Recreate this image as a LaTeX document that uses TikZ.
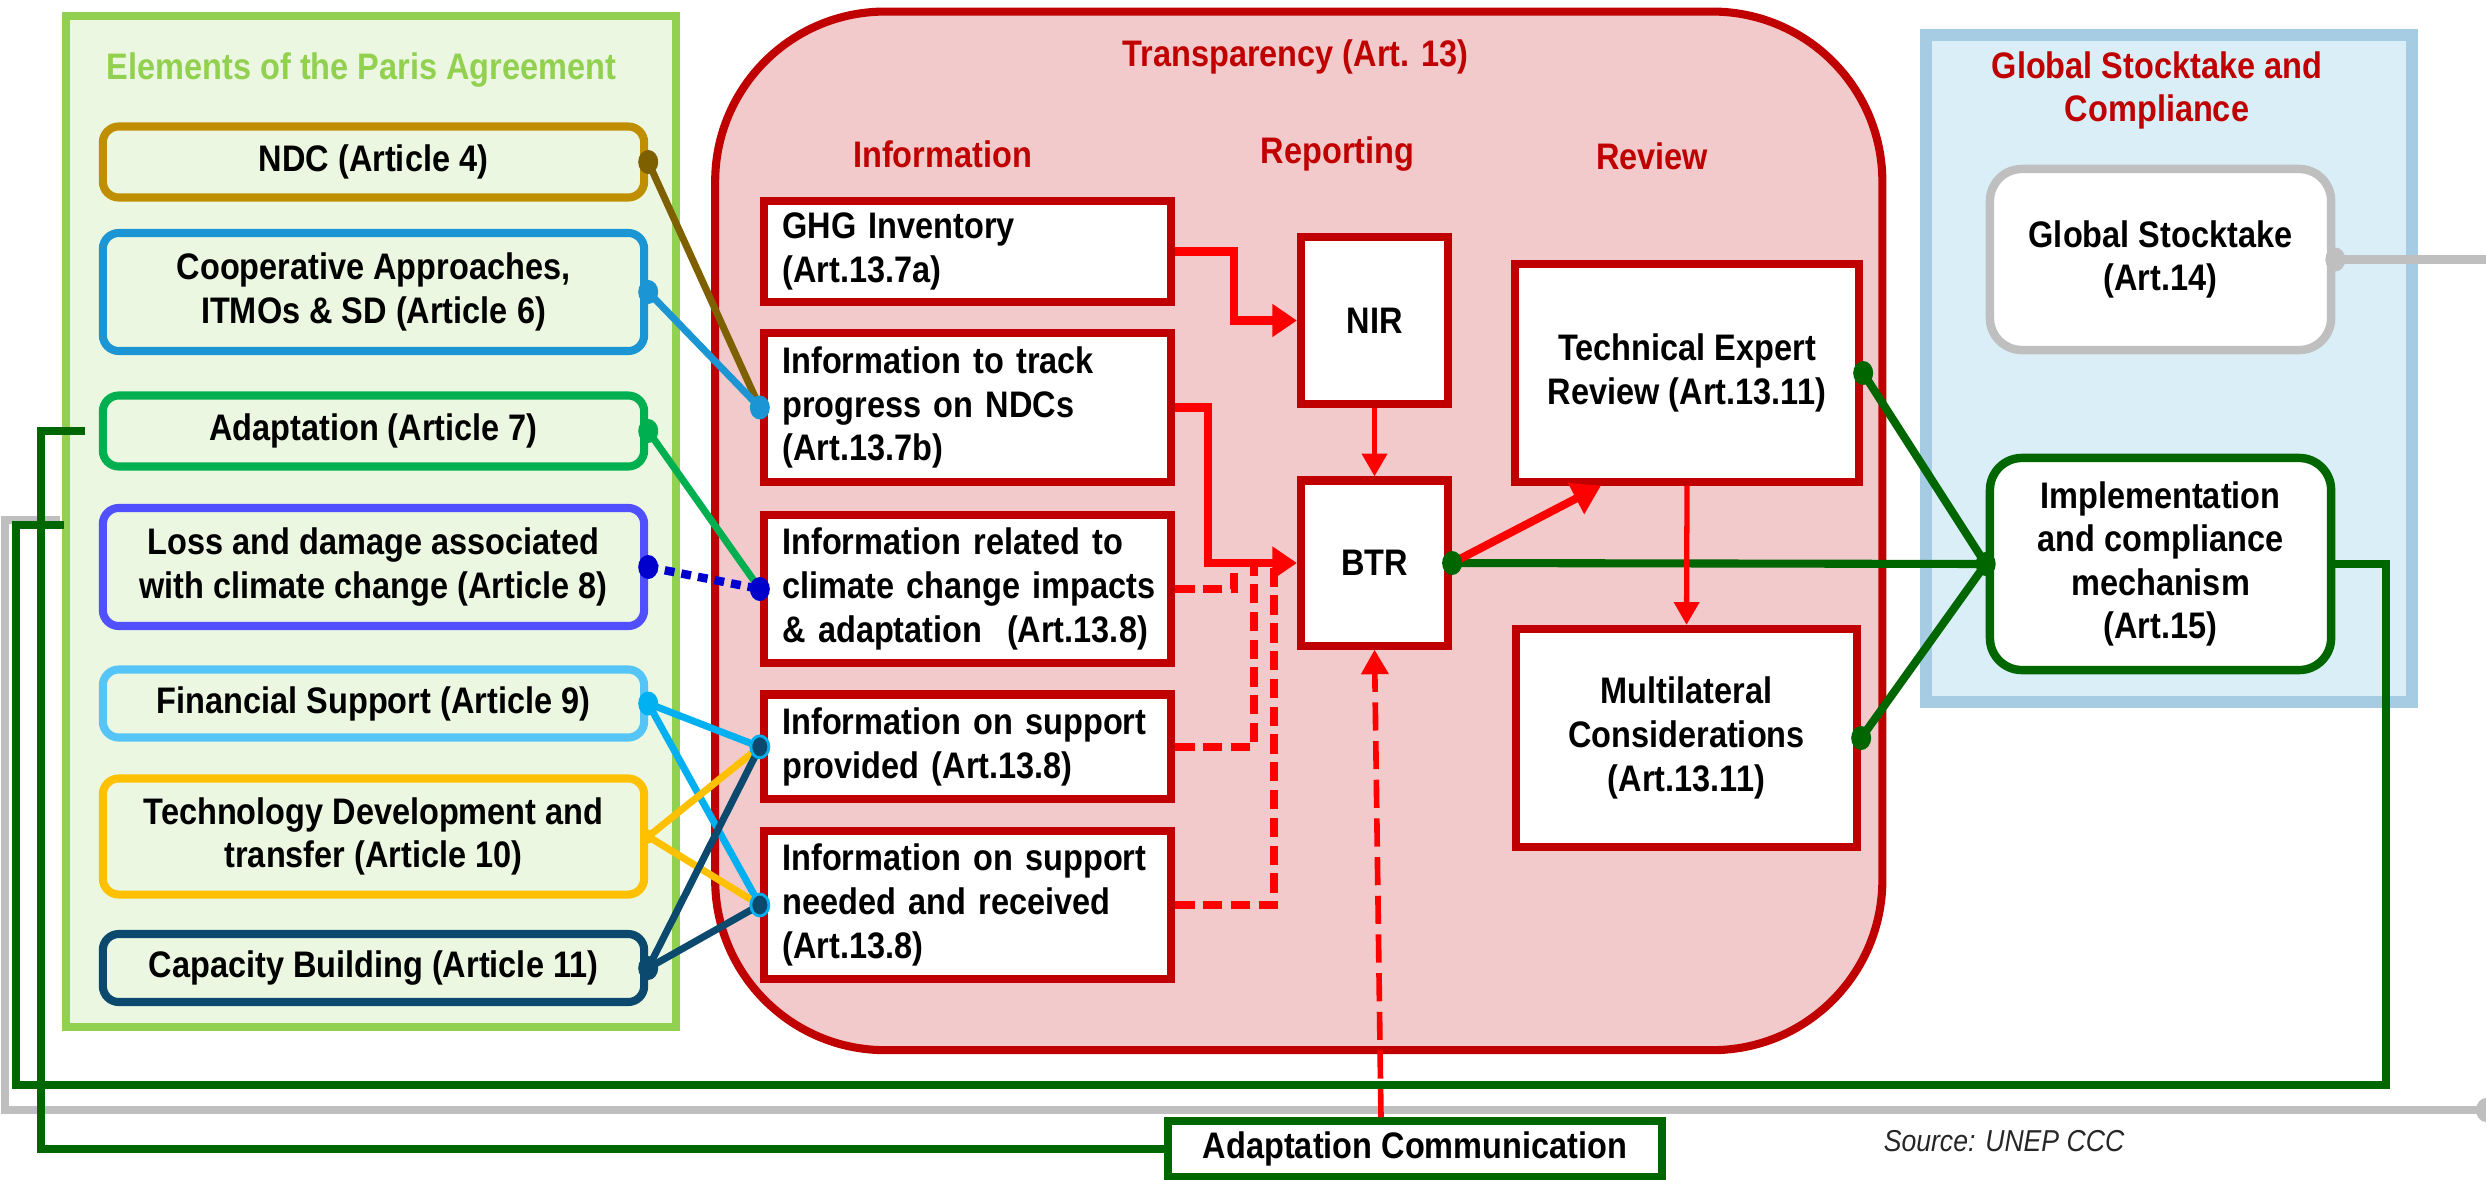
\documentclass[tikz,border=0pt]{standalone}
\usepackage{fontspec}
\setmainfont{Liberation Sans}[FakeStretch=0.88]
\usetikzlibrary{arrows.meta}
\definecolor{tred}{HTML}{C00000}
\definecolor{ared}{HTML}{FF0000}
\definecolor{pagreen}{HTML}{92D050}
\definecolor{pafill}{HTML}{EBF7E1}
\definecolor{trfill}{HTML}{F2CACB}
\definecolor{bluefill}{HTML}{DAEEF8}
\definecolor{blueline}{HTML}{A5CCE3}
\definecolor{dkgreen}{HTML}{006600}
\definecolor{gline}{HTML}{BFBFBF}
\definecolor{cndc}{HTML}{BF8F00}
\definecolor{cndcdot}{HTML}{7F6000}
\definecolor{ccoop}{HTML}{1B95D3}
\definecolor{cadapt}{HTML}{00B050}
\definecolor{closs}{HTML}{5050FF}
\definecolor{clossdot}{HTML}{0000CC}
\definecolor{cfin}{HTML}{55C5F8}
\definecolor{cfindot}{HTML}{00B0F0}
\definecolor{ctech}{HTML}{FFC000}
\definecolor{ccap}{HTML}{0B4A6E}
\newcommand\oneln[1]{\mbox{#1}}
\begin{document}
\begin{tikzpicture}[x=0.01cm, y=-0.01cm,
  txt/.style={font=\fontsize{10.5}{12.4}\selectfont\bfseries},
  lbox/.style={txt, draw=#1, line width=2.3pt, rounded corners=0.16cm, minimum width=5.41cm, align=center, inner sep=0pt},
  ibox/.style={txt, draw=tred, fill=white, line width=2.3pt, minimum width=4.07cm, text width=3.7cm, inner xsep=0.185cm, inner ysep=0pt, align=left},
  rbox/.style={txt, draw=tred, fill=white, line width=2.3pt, align=center, inner sep=0pt},
  gbox/.style={txt, draw=#1, fill=white, line width=2.4pt, rounded corners=0.32cm, minimum width=3.41cm, align=center, inner sep=0pt},
  head/.style={txt, text=tred, align=center},
  rarrow/.style={draw=ared, line width=2.3pt, -{Triangle[length=7pt, width=9pt]}},
  rarrowthin/.style={draw=ared, line width=1.5pt, -{Triangle[length=6.5pt, width=7pt]}},
  rdash/.style={draw=ared, line width=2.4pt, dash pattern=on 5.5pt off 2.4pt},
  adash/.style={draw=ared, line width=1.6pt, dash pattern=on 8pt off 3pt, -{Triangle[length=7pt, width=7.5pt]}},
  dkg/.style={draw=dkgreen, line width=2.3pt},
  gryl/.style={draw=gline, line width=2.5pt},
  cl/.style={draw=#1, line width=2pt},
  dotpat/.style={dash pattern=on 2.8pt off 2pt}
]
\useasboundingbox (0,0) rectangle (2486,1179);

% containers
\node[draw=pagreen, fill=pafill, line width=2.3pt, minimum width=6.1cm, minimum height=10.11cm, inner sep=0pt] (pa) at (371,521.5) {};
\node[draw=tred, fill=trfill, line width=2.3pt, rounded corners=1.7cm, minimum width=11.665cm, minimum height=10.38cm, inner sep=0pt] (tr) at (1298.75,530.85) {};
\node[draw=blueline, fill=bluefill, line width=3.4pt, minimum width=4.86cm, minimum height=6.664cm, inner sep=0pt] (bl) at (2169,368.8) {};

% headings
\node[txt, text=pagreen] (patitle) at (361.5,70) {Elements of the Paris Agreement};
\node[head] (trtitle) at (1295.5,57) {Transparency (Art. 13)};
\node[head] (hinfo) at (942.5,154) {Information};
\node[head] (hrep) at (1337.5,154) {Reporting};
\node[head] (hrev) at (1652,156) {Review};
\node[head] (bltitle) at (2157,90.5) {Global Stocktake and\\Compliance};

% left boxes
\node[lbox=cndc, minimum height=0.71cm] (ndc) at (373.5,162) {NDC (Article 4)};
\node[lbox=ccoop, minimum height=1.18cm] (coop) at (373.5,292) {Cooperative Approaches,\\ITMOs \& SD (Article 6)};
\node[lbox=cadapt, minimum height=0.71cm] (adapt) at (373.5,431) {Adaptation (Article 7)};
\node[lbox=closs, minimum height=1.18cm] (loss) at (373.5,567) {Loss and damage associated\\with climate change (Article 8)};
\node[lbox=cfin, minimum height=0.68cm] (fin) at (373.5,703.5) {Financial Support (Article 9)};
\node[lbox=ctech, minimum height=1.16cm] (tech) at (373.5,836.5) {Technology Development and\\transfer (Article 10)};
\node[lbox=ccap, minimum height=0.68cm] (cap) at (373.5,968) {Capacity Building (Article 11)};

% information boxes
\node[ibox, minimum height=1.01cm] (ghg) at (967.5,251.5) {\oneln{GHG Inventory}\\\oneln{(Art.13.7a)}};
\node[ibox, minimum height=1.49cm] (track) at (967.5,407.5) {\oneln{Information to track}\\\oneln{progress on NDCs}\\\oneln{(Art.13.7b)}};
\node[ibox, minimum height=1.48cm] (related) at (967.5,589) {\oneln{Information related to}\\\oneln{climate change impacts}\\\oneln{\& adaptation\ \ (Art.13.8)}};
\node[ibox, minimum height=1.045cm] (prov) at (967.5,746.8) {\oneln{Information on support}\\\oneln{provided (Art.13.8)}};
\node[ibox, minimum height=1.48cm] (need) at (967.5,905) {\oneln{Information on support}\\\oneln{needed and received}\\\oneln{(Art.13.8)}};

% reporting / review
\node[rbox, minimum width=1.47cm, minimum height=1.66cm] (nir) at (1374.5,320.5) {NIR};
\node[rbox, minimum width=1.47cm, minimum height=1.65cm] (btr) at (1374.5,563) {BTR};
\node[rbox, minimum width=3.44cm, minimum height=2.17cm] (ter) at (1687,373) {Technical Expert\\Review (Art.13.11)};
\node[rbox, minimum width=3.41cm, minimum height=2.18cm] (multi) at (1686.5,738) {Multilateral\\Considerations\\(Art.13.11)};

% global stocktake
\node[gbox=gline, minimum height=1.81cm] (gst) at (2160.5,259.5) {Global Stocktake\\(Art.14)};
\node[gbox=dkgreen, minimum height=2.12cm] (ic) at (2160.5,564) {Implementation\\and compliance\\mechanism\\(Art.15)};

% free ends
\coordinate (gsr) at (2500,259.5);
\coordinate (gbr) at (2486,1110);
\coordinate (gtl) at (60,520);
\coordinate (lstub) at (64,525);
\coordinate (astub) at (85,431);

% gray loop
\draw[gryl] (gst.east) -- (gsr);
\draw[gryl] (gbr) -| (5,520) -- (gtl);

% dark green loops
\draw[dkg] (ic.east) -| (2386,1085) -| (16,525) -- (lstub);
\draw[dkg] (astub) -- (41,431) |- (1166,1149);

% adaptation communication
\node[txt, draw=dkgreen, fill=white, line width=2.1pt, minimum width=4.94cm, minimum height=0.56cm, inner sep=0pt] (adcomm) at (1415,1149) {Adaptation Communication};

% source
\node[font=\fontsize{8.6}{10}\selectfont\itshape, text=black!85] (src) at (2004,1141) {Source: UNEP CCC};

% dark green connectors
\draw[dkg] (btr.east) -- (ic.west);
\draw[dkg] (ter.east) -- (ic.west);
\draw[dkg] (multi.east) -- (ic.west);

% red connectors
\draw[rarrow] (ghg.east) -- ++(59,0) |- (nir.west);
\draw[rarrow] (track.east) -- ++(33,0) |- (btr.west);
\draw[rdash] (related.east) -| ([xshift=-0.63cm]btr.west);
\draw[rdash] (prov.east) -| ([xshift=-0.43cm]btr.west);
\draw[rdash] (need.east) -| ([xshift=-0.23cm]btr.west);
\draw[rarrowthin] (nir.south) -- (btr.north);
\draw[rarrow, -{Triangle[length=8pt, width=9.5pt]}] (btr.east) -- ([xshift=-0.86cm]ter.south);
\draw[rarrowthin] (ter.south) -- (multi.north);
\draw[adash] ([xshift=-0.34cm]adcomm.north) -- (btr.south);

% left connectors
\draw[cl=cndcdot] (ndc.east) -- (track.west);
\draw[cl=ccoop] (coop.east) -- (track.west);
\draw[cl=cadapt] (adapt.east) -- (related.west);
\draw[cl=clossdot, line width=2.4pt, dotpat] (loss.east) -- (related.west);
\draw[cl=cfindot] (fin.east) -- (prov.west);
\draw[cl=cfindot] (fin.east) -- (need.west);
\draw[cl=ctech] (tech.east) -- (prov.west);
\draw[cl=ctech] (tech.east) -- (need.west);
\draw[cl=ccap] (cap.east) -- (prov.west);
\draw[cl=ccap] (cap.east) -- (need.west);

% dots
\fill[cndcdot] (ndc.east) ellipse [x radius=0.1cm, y radius=0.12cm];
\fill[ccoop] (coop.east) ellipse [x radius=0.1cm, y radius=0.12cm];
\fill[cadapt] (adapt.east) ellipse [x radius=0.1cm, y radius=0.12cm];
\fill[clossdot] (loss.east) ellipse [x radius=0.1cm, y radius=0.12cm];
\fill[cfindot] (fin.east) ellipse [x radius=0.1cm, y radius=0.12cm];
\fill[ctech] (tech.east) ellipse [x radius=0.06cm, y radius=0.07cm];
\fill[ccap] (cap.east) ellipse [x radius=0.1cm, y radius=0.12cm];
\fill[ccoop] (track.west) ellipse [x radius=0.1cm, y radius=0.12cm];
\fill[clossdot] (related.west) ellipse [x radius=0.1cm, y radius=0.12cm];
\filldraw[fill=ccap, draw=cfindot, line width=0.8pt] (prov.west) ellipse [x radius=0.09cm, y radius=0.11cm];
\filldraw[fill=ccap, draw=cfindot, line width=0.8pt] (need.west) ellipse [x radius=0.09cm, y radius=0.11cm];
\fill[dkgreen] (btr.east) ellipse [x radius=0.1cm, y radius=0.12cm];
\fill[dkgreen] (ter.east) ellipse [x radius=0.1cm, y radius=0.12cm];
\fill[dkgreen] (multi.east) ellipse [x radius=0.1cm, y radius=0.12cm];
\fill[dkgreen] (ic.west) ellipse [x radius=0.1cm, y radius=0.12cm];
\fill[gline] (gst.east) ellipse [x radius=0.1cm, y radius=0.12cm];
\fill[gline] (gbr) ellipse [x radius=0.1cm, y radius=0.12cm];
\end{tikzpicture}
\end{document}
